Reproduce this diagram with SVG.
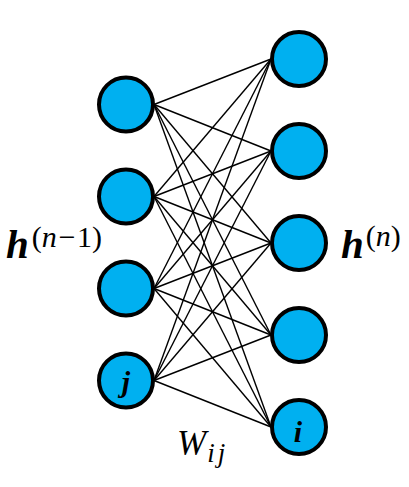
<svg xmlns="http://www.w3.org/2000/svg" width="409" height="487" viewBox="0 0 409 487">
<style>
.node{fill:#00B0F0;stroke:#000;stroke-width:4}
.conn line{stroke:#000;stroke-width:1.4}
.m{font-family:"Liberation Serif","DejaVu Serif",serif;font-style:italic;fill:#000}
.b{font-weight:bold}
.u{font-style:normal}
</style>
<rect width="409" height="487" fill="#fff"/>
<g id="connectors" class="conn">
<line x1="154" y1="104.5" x2="271" y2="59"/>
<line x1="154" y1="104.5" x2="271" y2="151"/>
<line x1="154" y1="104.5" x2="271" y2="243"/>
<line x1="154" y1="104.5" x2="271" y2="335"/>
<line x1="154" y1="104.5" x2="271" y2="427"/>
<line x1="154" y1="196.5" x2="271" y2="59"/>
<line x1="154" y1="196.5" x2="271" y2="151"/>
<line x1="154" y1="196.5" x2="271" y2="243"/>
<line x1="154" y1="196.5" x2="271" y2="335"/>
<line x1="154" y1="196.5" x2="271" y2="427"/>
<line x1="154" y1="288.5" x2="271" y2="59"/>
<line x1="154" y1="288.5" x2="271" y2="151"/>
<line x1="154" y1="288.5" x2="271" y2="243"/>
<line x1="154" y1="288.5" x2="271" y2="335"/>
<line x1="154" y1="288.5" x2="271" y2="427"/>
<line x1="154" y1="380.5" x2="271" y2="59"/>
<line x1="154" y1="380.5" x2="271" y2="151"/>
<line x1="154" y1="380.5" x2="271" y2="243"/>
<line x1="154" y1="380.5" x2="271" y2="335"/>
<line x1="154" y1="380.5" x2="271" y2="427"/>
</g>
<g id="in1"><circle class="node" cx="126" cy="104.5" r="27"/></g>
<g id="in2"><circle class="node" cx="126" cy="196.5" r="27"/></g>
<g id="in3"><circle class="node" cx="126" cy="288.5" r="27"/></g>
<g id="in4"><circle class="node" cx="126" cy="380.5" r="27"/><text class="m b" x="126" y="392" font-size="30" text-anchor="middle">j</text></g>
<g id="out1"><circle class="node" cx="299" cy="59" r="27"/></g>
<g id="out2"><circle class="node" cx="299" cy="151" r="27"/></g>
<g id="out3"><circle class="node" cx="299" cy="243" r="27"/></g>
<g id="out4"><circle class="node" cx="299" cy="335" r="27"/></g>
<g id="out5"><circle class="node" cx="299" cy="427" r="27"/><text class="m b" x="298" y="442" font-size="30" text-anchor="middle">i</text></g>
<g id="label-hn1"><text class="m" x="6" y="258"><tspan class="b" font-size="41">h</tspan><tspan font-size="30" dx="3" dy="-11"><tspan class="u">(</tspan>n−<tspan class="u">1)</tspan></tspan></text></g>
<g id="label-hn"><text class="m" x="341" y="258"><tspan class="b" font-size="41">h</tspan><tspan font-size="30" dx="2" dy="-12"><tspan class="u">(</tspan>n<tspan class="u">)</tspan></tspan></text></g>
<g id="label-w"><text class="m" x="177" y="455"><tspan font-size="35">W</tspan><tspan font-size="27" dx="1" dy="7" letter-spacing="3">ij</tspan></text></g>
</svg>
